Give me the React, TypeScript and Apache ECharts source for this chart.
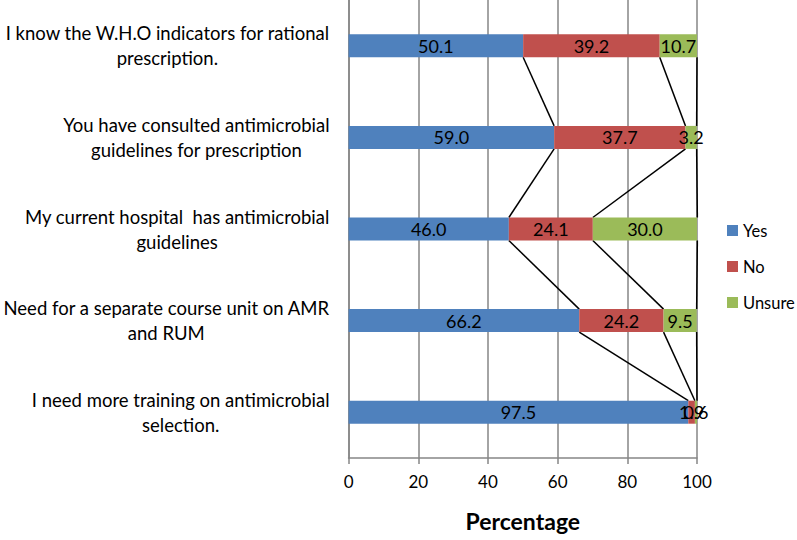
import React, { useEffect, useRef } from "react";
import * as echarts from "echarts";

const categories = [
  "I know the W.H.O indicators for rational\nprescription.",
  "You have consulted antimicrobial\nguidelines for prescription",
  "My current hospital  has antimicrobial\nguidelines",
  "Need for a separate course unit on AMR\nand RUM",
  "I need more training on antimicrobial\nselection.",
];
const seriesNames = ["Yes", "No", "Unsure"];
const yesValues = [50.1, 59.0, 46.0, 66.2, 97.5];
const noValues = [39.2, 37.7, 24.1, 24.2, 1.9];
const unsureValues = [10.7, 3.2, 30.0, 9.5, 0.6];
const xTicks = [0, 20, 40, 60, 80, 100];
const colors = ["#4F81BD", "#C0504D", "#9BBB59"];

const FONT = "Lato, 'Open Sans', sans-serif";
const BAR_W = 23;

export default function App() {
  const ref = useRef<HTMLDivElement>(null);
  useEffect(() => {
    if (!ref.current) return;
    const chart = echarts.init(ref.current, null, { renderer: "svg" });
    const all = [yesValues, noValues, unsureValues];
    const cum = categories.map((_, i) => {
      const a = yesValues[i];
      const b = a + noValues[i];
      const c = b + unsureValues[i];
      return [a, b, c];
    });
    const lineData: number[][] = [];
    for (let i = 0; i < categories.length - 1; i++) {
      for (let k = 0; k < 3; k++) {
        lineData.push([cum[i][k], i, cum[i + 1][k], i + 1]);
      }
    }
    const barSeries = seriesNames.map((name, s) => ({
      name,
      type: "bar",
      stack: "total",
      barWidth: BAR_W,
      itemStyle: { color: colors[s] },
      label: {
        show: true,
        position: "inside",
        color: "#000",
        fontFamily: FONT,
        fontSize: 18,
        formatter: (p: any) => Number(p.value).toFixed(1),
      },
      data: all[s],
      z: 3,
    }));
    chart.setOption({
      animation: false,
      textStyle: { fontFamily: FONT },
      grid: { left: 348, right: 100, top: 0, height: 458 },
      legend: {
        orient: "vertical",
        left: 722,
        top: 215,
        itemWidth: 11,
        itemHeight: 11,
        itemGap: 15,
        icon: "rect",
        data: seriesNames,
        textStyle: { fontFamily: FONT, fontSize: 16.5, color: "#000", lineHeight: 21 },
      },
      xAxis: {
        type: "value",
        min: 0,
        max: 100,
        interval: 20,
        name: "Percentage",
        nameLocation: "middle",
        nameGap: 51,
        nameTextStyle: { fontFamily: FONT, fontSize: 23, fontWeight: "bold", color: "#000" },
        axisLine: { show: true, lineStyle: { color: "#868686", width: 1.5 } },
        axisTick: { show: true, length: 6, lineStyle: { color: "#868686", width: 1.5 } },
        axisLabel: {
          fontFamily: FONT,
          fontSize: 17,
          color: "#000",
          margin: 15,
          formatter: (v: number) => (xTicks.includes(v) ? String(v) : ""),
        },
        splitLine: { show: true, lineStyle: { color: "#868686", width: 1.5 } },
      },
      yAxis: {
        type: "category",
        inverse: true,
        data: categories,
        axisLine: { show: true, lineStyle: { color: "#868686", width: 1.5 } },
        axisTick: { show: false },
        axisLabel: {
          align: "right",
          margin: 19,
          fontFamily: FONT,
          fontSize: 18.5,
          color: "#000",
          formatter: (v: string) =>
            v
              .split("\n")
              .map((l) => `{c|${l}}`)
              .join("\n"),
          rich: {
            c: { align: "center", fontFamily: FONT, fontSize: 18.5, color: "#000", lineHeight: 25 },
          },
        },
      },
      series: [
        ...barSeries,
        {
          type: "custom",
          name: "seriesLines",
          data: lineData,
          encode: { x: [0, 2], y: [1, 3] },
          z: 2,
          silent: true,
          renderItem: (params: any, api: any) => {
            const p1 = api.coord([api.value(0), api.value(1)]);
            const p2 = api.coord([api.value(2), api.value(3)]);
            return {
              type: "line",
              shape: { x1: p1[0], y1: p1[1] + BAR_W / 2, x2: p2[0], y2: p2[1] - BAR_W / 2 },
              style: { stroke: "#000", lineWidth: 1.5 },
            };
          },
        },
      ],
    });
    return () => chart.dispose();
  }, []);
  return (
    <div
      ref={ref}
      style={{ position: "absolute", left: 0, top: 0, width: 797, height: 540, overflow: "hidden" }}
    />
  );
}
